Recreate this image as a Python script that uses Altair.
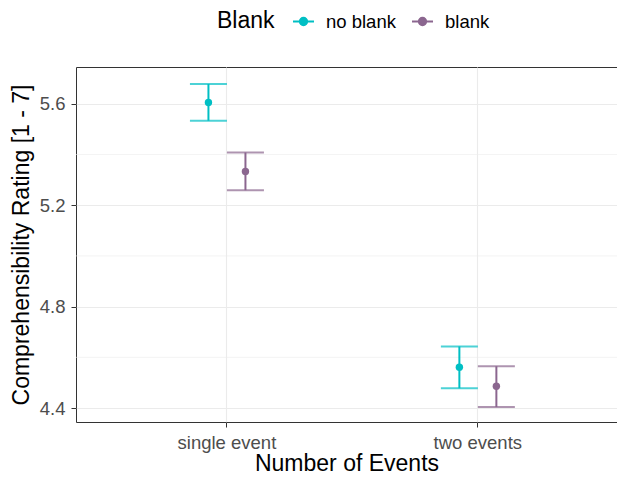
import altair as alt
import pandas as pd

events = ["single event", "single event", "two events", "two events"]
blank = ["no blank", "blank", "no blank", "blank"]
mean = [5.605, 5.333, 4.561, 4.486]
lower = [5.533, 5.259, 4.478, 4.404]
upper = [5.678, 5.408, 4.643, 4.565]

minor_breaks = [4.6, 5.0, 5.4]
major_breaks = [4.4, 4.8, 5.2, 5.6]

df = pd.DataFrame({"events": events, "blank": blank, "mean": mean,
                   "lower": lower, "upper": upper})
minor_df = pd.DataFrame({"y": minor_breaks})

FONT = "Liberation Sans"
blank_order = ["no blank", "blank"]
colors = ["#00BFC4", "#8B668F"]

yscale = alt.Scale(domain=[4.345, 5.745], zero=False, nice=False)
xscale = alt.Scale(paddingInner=0, paddingOuter=0.078, align=0.65)
xoff_scale = alt.Scale(type="point", domain=blank_order, range=[107, 144], padding=0)

legend_path = ("M-1,0L1,0M0.35,0A0.35,0.35,0,1,1,-0.35,0"
               "A0.35,0.35,0,1,1,0.35,0Z")

color = alt.Color(
    "blank:N",
    scale=alt.Scale(domain=blank_order, range=colors),
    sort=blank_order,
    legend=alt.Legend(
        title="Blank", orient="none", direction="horizontal",
        legendX=141, legendY=-57, titleOrient="left",
        symbolType=legend_path, symbolSize=441, symbolStrokeWidth=2,
        symbolOpacity=1,
        titleFontSize=23, titleFont=FONT, titleColor="#000000",
        titleFontWeight="normal", titlePadding=17,
        labelFontSize=18.5, labelFont=FONT, labelColor="#000000",
        labelOffset=11, columnPadding=12,
    ),
)

x = alt.X("events:N", scale=xscale, sort=["single event", "two events"],
          axis=alt.Axis(title="Number of Events", labelAngle=0,
                        bandPosition=0.5, grid=True,
                        labelBaseline="alphabetic", labelPadding=21,
                        titleBaseline="alphabetic", titleY=48))
xoff = alt.XOffset("blank:N", scale=xoff_scale, sort=blank_order)

minor = alt.Chart(minor_df).mark_rule(color="#EBEBEB", strokeWidth=0.6).encode(
    y=alt.Y("y:Q", scale=yscale)
)

base = alt.Chart(df)

bars = base.mark_rule(strokeWidth=2).encode(
    x=x, xOffset=xoff,
    y=alt.Y("lower:Q", scale=yscale,
            axis=alt.Axis(title="Comprehensibility Rating [1 - 7]",
                          values=major_breaks, format=".1f",
                          labelPadding=6, titleX=-48,
                          titleBaseline="alphabetic")),
    y2="upper:Q",
    color=color,
)
caps_lo = base.mark_tick(orient="horizontal", size=37, thickness=2).encode(
    x=x, xOffset=xoff, y=alt.Y("lower:Q", scale=yscale), color=color
)
caps_hi = base.mark_tick(orient="horizontal", size=37, thickness=2).encode(
    x=x, xOffset=xoff, y=alt.Y("upper:Q", scale=yscale), color=color
)
points = base.mark_point(filled=True, size=55, opacity=1).encode(
    x=x, xOffset=xoff, y=alt.Y("mean:Q", scale=yscale), color=color
)

chart = alt.layer(minor, bars, caps_lo, caps_hi, points).properties(
    width=541, height=355,
    autosize=alt.AutoSizeParams(type="none"),
    padding={"left": 68, "top": 59, "right": 0, "bottom": 54},
).configure_view(
    stroke="#333333", strokeWidth=1, fill="white"
).configure_axis(
    labelFont=FONT, labelFontSize=18.5, labelColor="#4D4D4D",
    titleFont=FONT, titleFontSize=23, titleColor="#000000",
    titleFontWeight="normal",
    domain=False, tickColor="#333333", tickSize=5, tickWidth=1,
    gridColor="#EBEBEB", gridWidth=1.1,
)

chart.save("out.html", embed_options={"renderer": "svg", "actions": False})
